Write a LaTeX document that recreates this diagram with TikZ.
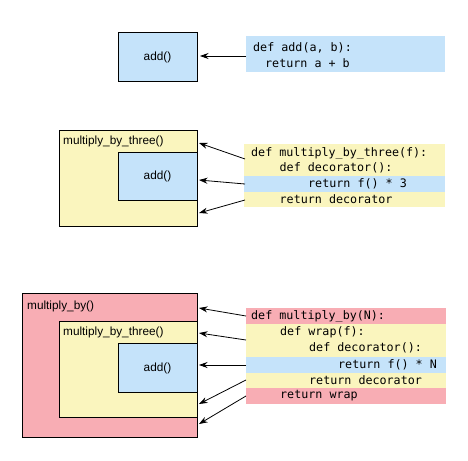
\documentclass[tikz,border=0pt]{standalone}
\usepackage{fontspec}
\setmainfont{Liberation Sans}
\newfontfamily\codefont{DejaVu Sans Mono}
\usetikzlibrary{arrows.meta}
\definecolor{cblue}{RGB}{197,227,250}
\definecolor{cyellow}{RGB}{250,245,190}
\definecolor{cred}{RGB}{248,173,180}
\begin{document}
\begin{tikzpicture}[x=1pt,y=-1pt,
  box/.style={draw=black, line width=0.8pt, rectangle, inner sep=0pt, anchor=north west},
  band/.style={draw=none, rectangle, inner sep=0pt, anchor=north west},
  lbl/.style={inner sep=0pt, anchor=west, font=\fontsize{11.8}{13}\selectfont},
  code/.style={inner sep=0pt, anchor=west, font=\codefont\fontsize{11.7}{14}\selectfont},
  arr/.style={line width=0.8pt, -{Stealth[length=8.5pt,width=6pt]}}]
\useasboundingbox (0,0) rectangle (468,460);

% ---------- top ----------
\node[box, fill=cblue, minimum width=79pt, minimum height=49pt] (addA) at (118,32) {};
\node[lbl, anchor=center] (addAl) at (157.5,57) {add()};
\node[band, fill=cblue, minimum width=199pt, minimum height=36pt] (codeA) at (246,36) {};
\node[code] (a1) at (253,48) {def add(a, b):};
\node[code] (a2) at (265,63) {return a + b};
\coordinate (ta1) at (246,56); \coordinate (ha1) at (200,56);
\draw[arr] (ta1) -- (ha1);

% ---------- middle ----------
\node[box, fill=cyellow, minimum width=138pt, minimum height=96pt] (mbtB) at (59,130) {};
\node[box, fill=cblue, minimum width=79pt, minimum height=48pt] (addB) at (118,152) {};
\node[lbl] (mbtBl) at (63,141) {multiply\_by\_three()};
\node[lbl, anchor=center] (addBl) at (157.5,176) {add()};
\node[band, fill=cyellow, minimum width=201pt, minimum height=63pt] (codeB) at (244,144) {};
\node[band, fill=cblue, minimum width=201pt, minimum height=15.5pt] (codeBb) at (244,176) {};
\node[code] (b1) at (251,153) {def multiply\_by\_three(f):};
\node[code] (b2) at (279.5,168) {def decorator():};
\node[code] (b3) at (308,183.5) {return f() * 3};
\node[code] (b4) at (279.5,199.5) {return decorator};
\coordinate (tb1) at (245,159); \coordinate (hb1) at (199,143);
\coordinate (tb2) at (245,184); \coordinate (hb2) at (199,180);
\coordinate (tb3) at (245,200); \coordinate (hb3) at (199,213);
\draw[arr] (tb1) -- (hb1);
\draw[arr] (tb2) -- (hb2);
\draw[arr] (tb3) -- (hb3);

% ---------- bottom ----------
\node[box, fill=cred, minimum width=175pt, minimum height=144pt] (mbC) at (22,293) {};
\node[box, fill=cyellow, minimum width=138pt, minimum height=96pt] (mbtC) at (59,321) {};
\node[box, fill=cblue, minimum width=79pt, minimum height=49pt] (addC) at (118,343) {};
\node[lbl] (mbCl) at (27,306) {multiply\_by()};
\node[lbl] (mbtCl) at (63,332) {multiply\_by\_three()};
\node[lbl, anchor=center] (addCl) at (157.5,368) {add()};
\node[band, fill=cred, minimum width=200pt, minimum height=96pt] (codeC) at (246,308) {};
\node[band, fill=cyellow, minimum width=200pt, minimum height=64pt] (codeCy) at (246,324) {};
\node[band, fill=cblue, minimum width=200pt, minimum height=16pt] (codeCb) at (246,357) {};
\node[code] (c1) at (251,316) {def multiply\_by(N):};
\node[code] (c2) at (280,332) {def wrap(f):};
\node[code] (c3) at (309,348) {def decorator():};
\node[code] (c4) at (338,365) {return f() * N};
\node[code] (c5) at (309,380) {return decorator};
\node[code] (c6) at (280,396) {return wrap};
\coordinate (tc1) at (246,316); \coordinate (hc1) at (199,308);
\coordinate (tc2) at (246,340); \coordinate (hc2) at (199,333);
\coordinate (tc3) at (246,365); \coordinate (hc3) at (199,365);
\coordinate (tc4) at (246,380); \coordinate (hc4) at (199,404);
\coordinate (tc5) at (246,396); \coordinate (hc5) at (199,424);
\draw[arr] (tc1) -- (hc1);
\draw[arr] (tc2) -- (hc2);
\draw[arr] (tc3) -- (hc3);
\draw[arr] (tc4) -- (hc4);
\draw[arr] (tc5) -- (hc5);
\end{tikzpicture}
\end{document}
